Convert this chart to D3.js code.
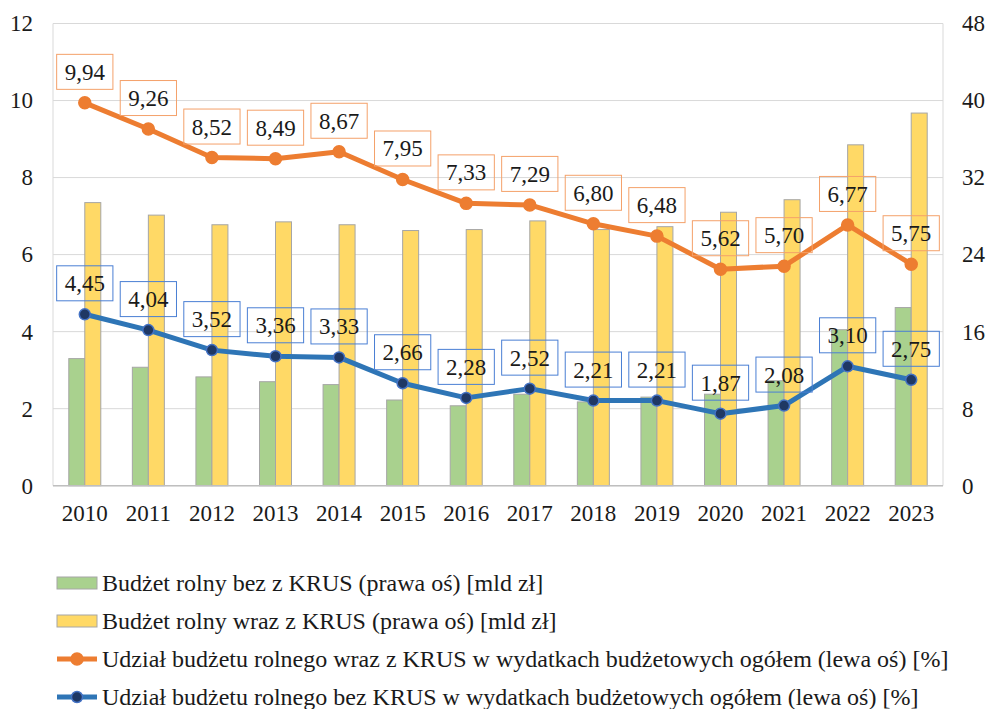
<!DOCTYPE html>
<html>
<head>
<meta charset="UTF-8">
<title>Budżet rolny</title>
<script src="https://d3js.org/d3.v7.min.js"></script>
<style>
  html, body { margin: 0; padding: 0; background: #fff; }
  svg { display: block; }
</style>
</head>
<body>
<svg id="chart" width="992" height="709"></svg>
<script>
// dane
const years = ["2010","2011","2012","2013","2014","2015","2016","2017","2018","2019","2020","2021","2022","2023"];
const budzetBez  = [13.2, 12.3, 11.3, 10.8, 10.5, 8.9, 8.3, 9.5, 8.7, 9.2, 9.5, 10.9, 16.2, 18.5];   // prawa oś
const budzetWraz = [29.4, 28.1, 27.1, 27.4, 27.1, 26.5, 26.6, 27.5, 26.6, 26.9, 28.4, 29.7, 35.4, 38.7]; // prawa oś
const udzialWraz = [9.94, 9.26, 8.52, 8.49, 8.67, 7.95, 7.33, 7.29, 6.80, 6.48, 5.62, 5.70, 6.77, 5.75]; // lewa oś
const udzialBez  = [4.45, 4.04, 3.52, 3.36, 3.33, 2.66, 2.28, 2.52, 2.21, 2.21, 1.87, 2.08, 3.10, 2.75]; // lewa oś
const leftTicks  = [0, 2, 4, 6, 8, 10, 12];
const rightTicks = [0, 8, 16, 24, 32, 40, 48];
const legendLabels = [
  "Budżet rolny bez z KRUS (prawa oś) [mld zł]",
  "Budżet rolny wraz z KRUS (prawa oś) [mld zł]",
  "Udział budżetu rolnego wraz z KRUS w wydatkach budżetowych ogółem (lewa oś) [%]",
  "Udział budżetu rolnego bez KRUS w wydatkach budżetowych ogółem (lewa oś) [%]"
];

const svg = d3.select("#chart");
const plot = { left: 53, right: 943, top: 23.5, bottom: 485.7 };
const fontSize = 23;
const legendFontSize = 24;
const FONT = "Liberation Serif";
const textColor = "#1a1a1a";

const x = d3.scaleBand().domain(years).range([plot.left, plot.right]);
const yL = d3.scaleLinear().domain([0, 12]).range([plot.bottom, plot.top]);
const yR = d3.scaleLinear().domain([0, 48]).range([plot.bottom, plot.top]);
const barW = 16;
const cx = d => x(d) + x.bandwidth() / 2;

const fmt = v => v.toFixed(2).replace(".", ",");

// siatka
svg.append("g").selectAll("line").data(leftTicks).join("line")
  .attr("x1", plot.left).attr("x2", plot.right)
  .attr("y1", d => yL(d)).attr("y2", d => yL(d))
  .attr("stroke", "#d9d9d9").attr("stroke-width", 1);
// pionowe krawędzie
[plot.left, plot.right].forEach(px => {
  svg.append("line").attr("x1", px).attr("x2", px)
    .attr("y1", plot.top).attr("y2", plot.bottom)
    .attr("stroke", "#d9d9d9");
});

// osie (tylko etykiety)
const axL = svg.append("g").attr("transform", `translate(${plot.left},0)`)
  .call(d3.axisLeft(yL).tickValues(leftTicks).tickSize(0).tickPadding(20).tickFormat(d3.format("d")));
const axR = svg.append("g").attr("transform", `translate(${plot.right},0)`)
  .call(d3.axisRight(yR).tickValues(rightTicks).tickSize(0).tickPadding(19).tickFormat(d3.format("d")));
const axB = svg.append("g").attr("transform", `translate(0,${plot.bottom})`)
  .call(d3.axisBottom(x).tickSize(0).tickPadding(19));
[axL, axR, axB].forEach(g => {
  g.select(".domain").remove();
  g.attr("font-family", null);
  g.selectAll("text").attr("font-size", fontSize).attr("fill", textColor)
    .style("font-family", FONT);
});

// słupki
const bars = svg.append("g");
bars.selectAll("rect.bez").data(years).join("rect")
  .attr("x", d => cx(d) - barW).attr("width", barW)
  .attr("y", (d, i) => yR(budzetBez[i])).attr("height", (d, i) => yR(0) - yR(budzetBez[i]))
  .attr("fill", "#a9d18e").attr("stroke", "#a6a6a6").attr("stroke-width", 1);
bars.selectAll("rect.wraz").data(years).join("rect")
  .attr("x", d => cx(d)).attr("width", barW)
  .attr("y", (d, i) => yR(budzetWraz[i])).attr("height", (d, i) => yR(0) - yR(budzetWraz[i]))
  .attr("fill", "#ffd966").attr("stroke", "#a6a6a6").attr("stroke-width", 1);

// oś X
svg.append("line").attr("x1", plot.left).attr("x2", plot.right)
  .attr("y1", plot.bottom).attr("y2", plot.bottom)
  .attr("stroke", "#bfbfbf").attr("stroke-width", 1.5);

// linie
function drawLine(vals, color, dotFill, dotStroke, r) {
  const line = d3.line().x((d, i) => cx(years[i])).y(d => yL(d));
  svg.append("path").datum(vals).attr("d", line)
    .attr("fill", "none").attr("stroke", color).attr("stroke-width", 5)
    .attr("stroke-linejoin", "round");
  svg.append("g").selectAll("circle").data(vals).join("circle")
    .attr("cx", (d, i) => cx(years[i])).attr("cy", d => yL(d)).attr("r", r)
    .attr("fill", dotFill).attr("stroke", dotStroke).attr("stroke-width", 1.5);
}
drawLine(udzialWraz, "#ed7d31", "#ed7d31", "#ed7d31", 6);
drawLine(udzialBez, "#2e75b6", "#1f3864", "#4472c4", 5.5);

// etykiety danych w ramkach
function drawLabels(vals, border) {
  const g = svg.append("g");
  vals.forEach((v, i) => {
    const px = cx(years[i]);
    const boxBottom = yL(v) - 13.5;
    const boxH = 35;
    const t = g.append("text").attr("x", px).attr("y", boxBottom - boxH / 2 + 8)
      .attr("text-anchor", "middle")
      .attr("font-size", fontSize).style("font-family", FONT)
      .attr("fill", textColor).text(fmt(v));
    const w = t.node().getComputedTextLength() + 16;
    g.insert("rect", "text").attr("x", px - w / 2).attr("y", boxBottom - boxH)
      .attr("width", w).attr("height", boxH)
      .attr("fill", "none").attr("stroke", border).attr("stroke-width", 1);
  });
}
drawLabels(udzialWraz, "#f4a16a");
drawLabels(udzialBez, "#4a7fd4");

// legenda
const legY = [583, 621, 659, 697];
const leg = svg.append("g");
legendLabels.forEach((lab, i) => {
  const ly = legY[i];
  if (i < 2) {
    leg.append("rect").attr("x", 57).attr("y", ly - 6).attr("width", 40).attr("height", 12)
      .attr("fill", i === 0 ? "#a9d18e" : "#ffd966").attr("stroke", "#a6a6a6");
  } else {
    const c = i === 2 ? "#ed7d31" : "#2e75b6";
    leg.append("line").attr("x1", 57).attr("x2", 97).attr("y1", ly).attr("y2", ly)
      .attr("stroke", c).attr("stroke-width", 5);
    leg.append("circle").attr("cx", 77).attr("cy", ly).attr("r", i === 2 ? 6 : 5.5)
      .attr("fill", i === 2 ? "#ed7d31" : "#1f3864")
      .attr("stroke", i === 2 ? "#ed7d31" : "#4472c4").attr("stroke-width", 1.5);
  }
  leg.append("text").attr("x", 102).attr("y", ly + 8)
    .attr("font-size", legendFontSize).style("font-family", FONT)
    .attr("fill", textColor).text(lab);
});
</script>
</body>
</html>
